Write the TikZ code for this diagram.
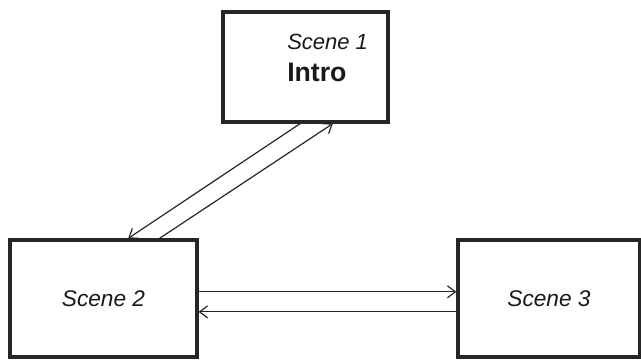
\documentclass[tikz,border=0pt]{standalone}
\usepackage{fontspec}
\setmainfont{Liberation Sans}
\usetikzlibrary{arrows.meta,positioning,calc}

\begin{document}
\begin{tikzpicture}[
  x=0.75pt, y=-0.75pt,
  scenebox/.style={rectangle, draw=black!85, line width=2.4pt, fill=white,
                   inner sep=0pt, text=black!90},
  scenetext/.style={font=\fontsize{17}{20}\selectfont\itshape},
  edge/.style={draw=black!85, line width=0.9pt,
               -{Straight Barb[length=6pt, width=9pt, line width=0.9pt]}},
]
  \useasboundingbox (0,0) rectangle (641,360);

  % ===== Scene boxes =====
  \node[scenebox, minimum width=123.75pt, minimum height=82.5pt] (intro) at (305.5, 67) {};
  \node[anchor=west, align=left, inner sep=0pt, text=black!90] (introtext) at (287, 58)
       {{\fontsize{16.5}{19}\selectfont\itshape Scene 1}\\[9pt]
        {\fontsize{20}{23}\selectfont\bfseries Intro}};

  \node[scenebox, scenetext, minimum width=140.25pt, minimum height=87.75pt]
       (scenetwo) at (103.5, 298.5) {Scene 2};

  \node[scenebox, scenetext, minimum width=136.5pt, minimum height=87.75pt]
       (scenethree) at (549, 298.5) {Scene 3};

  % ===== Edges =====
  % Intro <-> Scene 2 (diagonal pair)
  \draw[edge] ([xshift=-4pt]intro.south) -- ([xshift=18.5pt]scenetwo.north);
  \draw[edge] ([xshift=42pt]scenetwo.north) -- ([xshift=20.5pt]intro.south);

  % Scene 2 <-> Scene 3 (horizontal pair)
  \draw[edge] ([yshift=5pt]scenetwo.east) -- ([yshift=5pt]scenethree.west);
  \draw[edge] ([yshift=-10pt]scenethree.west) -- ([yshift=-10pt]scenetwo.east);

\end{tikzpicture}
\end{document}
